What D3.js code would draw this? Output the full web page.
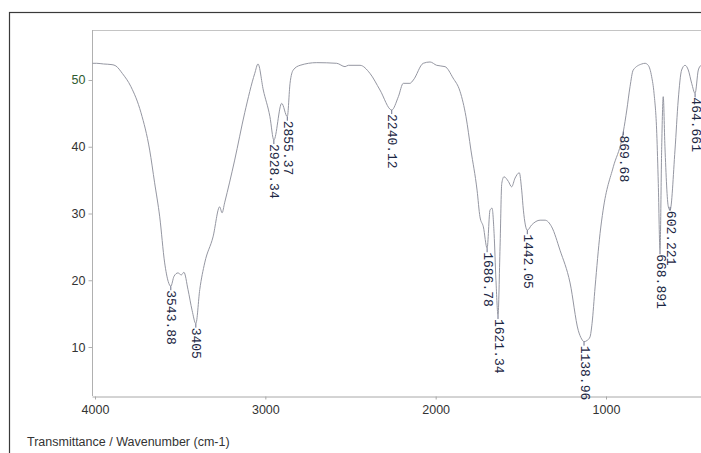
<!DOCTYPE html>
<html>
<head>
<meta charset="utf-8">
<script src="https://cdn.jsdelivr.net/npm/d3@7"></script>
<style>
  body { margin: 0; background: #ffffff; }
  svg { display: block; }
</style>
</head>
<body>
<svg id="chart" width="701" height="453"></svg>
<script>
// Spektrum: bølgetal (cm-1) og transmittans
var wavenumbers = [4015, 3990, 3950, 3900, 3877, 3840, 3789, 3730, 3679, 3650, 3620, 3591, 3570, 3555,
    3536, 3513, 3493, 3478, 3454, 3430, 3408, 3385, 3356, 3307, 3268, 3254, 3239, 3180, 3121, 3062,
    3043, 3012, 2973, 2950, 2904, 2871, 2855, 2836, 2796, 2698, 2581, 2532, 2513, 2444, 2386, 2327,
    2258, 2219, 2190, 2151, 2131, 2073, 2033, 1994, 1945, 1898, 1857, 1822, 1793, 1757, 1740, 1720,
    1698, 1681, 1669, 1657, 1646, 1634, 1622, 1612, 1599, 1573, 1554, 1534, 1509, 1495, 1485, 1462,
    1436, 1387, 1358, 1319, 1270, 1211, 1163, 1143, 1129, 1110, 1094, 1082, 1064, 1035, 1017, 957,
    908, 898, 878, 859, 840, 790, 771, 752, 732, 718, 702, 693, 683, 673, 664, 654, 634, 624,
    595, 576, 556, 536, 517, 497, 477, 458, 442, 420];
var transmittance = [52.5, 52.5, 52.4, 52.3, 52.1, 51.0, 49.0, 45.1, 39.5, 34.6, 29.5, 22.6, 19.8, 19.1,
    20.6, 21.1, 20.8, 21.2, 18.6, 15.5, 13.5, 18.6, 22.6, 26.5, 31.0, 30.1, 31.6, 38.0, 45.1, 51.0,
    52.4, 48.5, 44.5, 41.0, 46.5, 44.5, 49.5, 51.5, 52.2, 52.6, 52.5, 52.0, 52.2, 52.2, 51.0, 48.5,
    45.5, 47.5, 49.5, 49.5, 50.0, 52.5, 52.7, 52.2, 52.0, 50.3, 48.3, 44.5, 39.5, 33.5, 29.5, 28.0,
    24.8, 30.5, 30.8, 27.0, 20.0, 14.8, 25.0, 34.5, 35.5, 34.8, 34.0, 35.3, 36.1, 33.5, 30.5, 27.5,
    28.3, 29.0, 29.0, 28.0, 24.5, 19.6, 12.5, 11.2, 10.8, 11.0, 11.5, 13.5, 19.0, 27.0, 30.5, 37.0,
    41.0, 42.3, 45.5, 49.0, 51.5, 52.4, 52.5, 52.2, 50.5, 48.0, 42.0, 34.5, 24.5, 40.0, 47.5, 40.0,
    31.0, 30.5, 39.5, 47.0, 51.5, 52.2, 51.5, 49.5, 48.0, 51.5, 52.2, 52.4];

// Toppe med etiketter
var peakLabels = ["3543.88", "3405", "2928.34", "2855.37", "2240.12", "1686.78", "1621.34",
    "1442.05", "1138.96", "869.68", "668.891", "602.221", "464.661"];
var peakWn = [3555, 3408, 2950, 2871, 2258, 1698, 1634, 1462, 1129, 898, 683, 624, 477];
var peakT = [19.1, 13.5, 41.0, 44.5, 45.5, 24.8, 14.8, 27.5, 10.8, 42.3, 24.5, 31.0, 48.0];

// Akse-ticks
var xTicks = [4000, 3000, 2000, 1000];
var yTicks = [10, 20, 30, 40, 50];

var svg = d3.select("#chart");

// Plotområde
var plotLeft = 92, plotRight = 701, plotTop = 30, plotBottom = 396;

var x = d3.scaleLinear()
    .domain([4017.6, 442.3])
    .range([plotLeft, plotRight]);

var y = d3.scaleLinear()
    .domain([2.66, 57.49])
    .range([plotBottom, plotTop]);

// Ydre ramme
svg.append("rect")
    .attr("x", 9.5)
    .attr("y", 12.5)
    .attr("width", 720)
    .attr("height", 460)
    .attr("fill", "none")
    .attr("stroke", "#3a3a3a")
    .attr("stroke-width", 1.2);

// Plotramme foroven
svg.append("line")
    .attr("x1", plotLeft).attr("x2", plotRight + 10)
    .attr("y1", plotTop + 0.5).attr("y2", plotTop + 0.5)
    .attr("stroke", "#c4c4c4");

// Y-akse
var yAxis = svg.append("g")
    .attr("transform", "translate(" + (plotLeft + 0.5) + ",0)")
    .call(d3.axisLeft(y).tickValues(yTicks).tickSize(4).tickSizeOuter(0));
yAxis.select(".domain").attr("stroke", "#b0b0b0").attr("d", "M0," + plotTop + "V" + plotBottom);
yAxis.selectAll(".tick line").attr("stroke", "#b0b0b0");
yAxis.selectAll(".tick text")
    .attr("x", -7)
    .style("font-family", "Arial, 'Liberation Sans', sans-serif")
    .style("font-size", "12.5px")
    .attr("fill", function(d) { return d === 50 ? "#2f5a2f" : "#333333"; });

// X-akse
var xAxis = svg.append("g")
    .attr("transform", "translate(0," + (plotBottom + 0.5) + ")")
    .call(d3.axisBottom(x).tickValues(xTicks).tickFormat(d3.format("d")).tickSize(3).tickSizeOuter(0));
xAxis.select(".domain").attr("stroke", "#a8a8a8");
xAxis.selectAll(".tick line").attr("stroke", "#a8a8a8");
xAxis.selectAll(".tick text")
    .attr("y", 9)
    .style("font-family", "Arial, 'Liberation Sans', sans-serif")
    .style("font-size", "12.5px")
    .attr("fill", "#333333");

// Klip kurven til plotområdet
svg.append("clipPath")
    .attr("id", "clip")
    .append("rect")
    .attr("x", plotLeft).attr("y", plotTop)
    .attr("width", plotRight - plotLeft).attr("height", plotBottom - plotTop);

var line = d3.line()
    .x(function(d, i) { return x(wavenumbers[i]); })
    .y(function(d) { return y(d); })
    .curve(d3.curveMonotoneX);

svg.append("path")
    .datum(transmittance)
    .attr("clip-path", "url(#clip)")
    .attr("fill", "none")
    .attr("stroke", "#9597a2")
    .attr("stroke-width", 1)
    .attr("d", line);

// Etiketter ved toppene, drejet 90 grader
peakLabels.forEach(function(label, i) {
    var px = x(peakWn[i]), py = y(peakT[i]);

    svg.append("line")
        .attr("x1", px).attr("x2", px)
        .attr("y1", py).attr("y2", py + 4)
        .attr("stroke", "#6a6f88")
        .attr("stroke-width", 1);

    svg.append("text")
        .attr("transform", "translate(" + px + "," + (py + 4) + ") rotate(90)")
        .attr("text-anchor", "start")
        .attr("dominant-baseline", "central")
        .style("font-family", "'Liberation Mono', 'DejaVu Sans Mono', monospace")
        .style("font-size", "13px")
        .attr("fill", "#1c2744")
        .text(label);
});

// Aksetitel
svg.append("text")
    .attr("x", 27)
    .attr("y", 446)
    .style("font-family", "Arial, 'Liberation Sans', sans-serif")
    .style("font-size", "12.5px")
    .attr("fill", "#333333")
    .text("Transmittance / Wavenumber (cm-1)");
</script>
</body>
</html>
